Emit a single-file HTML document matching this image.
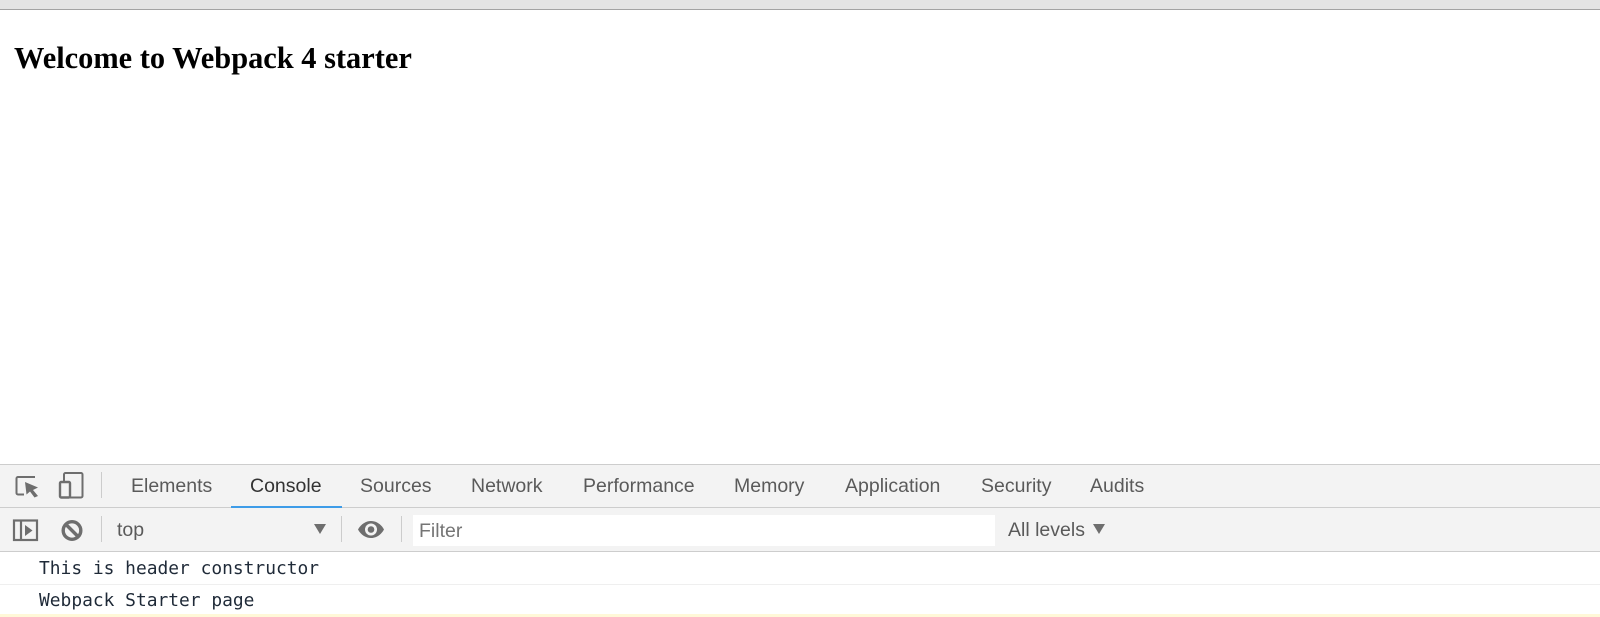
<!DOCTYPE html>
<html><head><meta charset="utf-8"><style>
html,body{margin:0;padding:0;background:#fff}
#p{position:relative;width:1600px;height:617px;overflow:hidden;background:#fff;font-family:"Liberation Sans",sans-serif}
.a{position:absolute}
.t{position:absolute;top:474px;font-size:19.5px;line-height:24px;color:#5a5a5a;white-space:nowrap}
.m{position:absolute;font-family:"DejaVu Sans Mono",monospace;font-size:17.9px;line-height:22px;color:#1f2a38;white-space:pre}
</style></head><body><div id="p">
<div class="a" style="left:0;top:0;width:1600px;height:9px;background:#e4e4e4"></div>
<div class="a" style="left:0;top:9px;width:1600px;height:1px;background:#a3a3a3"></div>
<div class="a" style="left:14px;top:40px;font:bold 30.4px/36px 'Liberation Serif',serif;color:#000;white-space:nowrap">Welcome to Webpack 4 starter</div>

<div class="a" style="left:0;top:464px;width:1600px;height:87px;background:#f3f3f3"></div>
<div class="a" style="left:0;top:464px;width:1600px;height:1px;background:#cdcdcd"></div>
<div class="a" style="left:0;top:507px;width:1600px;height:1px;background:#cdcdcd"></div>
<div class="a" style="left:0;top:551px;width:1600px;height:1px;background:#cdcdcd"></div>
<div class="a" style="left:231px;top:506px;width:111px;height:2px;background:#3e9ce8"></div>

<div class="a" style="left:101px;top:472px;width:1px;height:26px;background:#cccccc"></div>
<div class="a" style="left:101px;top:516px;width:1px;height:26px;background:#cccccc"></div>
<div class="a" style="left:341px;top:516px;width:1px;height:26px;background:#cccccc"></div>
<div class="a" style="left:401px;top:516px;width:1px;height:26px;background:#cccccc"></div>

<svg class="a" style="left:0;top:460px" width="120" height="95" viewBox="0 0 120 95">
<g fill="none" stroke="#6e6e6e" stroke-width="2">
<path d="M35 17H18a1.500 1.500 0 0 0-1.500 1.500V33a1.500 1.500 0 0 0 1.500 1.500H24"/>
<path d="M64 21V14.500a1.500 1.500 0 0 1 1.500-1.500H81a1.500 1.500 0 0 1 1.500 1.500V36a1.500 1.500 0 0 1-1.500 1.500H70"/>
<rect x="60" y="22" width="10" height="15.500" rx="1.200" stroke-width="2.400"/>
<rect x="14" y="60.500" width="23" height="19.500" stroke-width="2.200"/>
<path d="M21 60.500V80" stroke-width="2.200"/>
<circle cx="72" cy="70.500" r="8.800" stroke-width="3.400"/>
<path d="M66 64.500L78 76.500" stroke-width="3.400"/>
</g>
<path d="M25 22L38 27.500 33 30 38 36 34.500 37.500 30 31.500 26.500 34.500Z" fill="#6e6e6e"/>
<path d="M25 65L32.500 70.500 25 76Z" fill="#6e6e6e"/>
</svg>

<div class="t" style="left:131px">Elements</div>
<div class="t" style="left:250px;color:#333">Console</div>
<div class="t" style="left:360px">Sources</div>
<div class="t" style="left:471px">Network</div>
<div class="t" style="left:583px">Performance</div>
<div class="t" style="left:734px">Memory</div>
<div class="t" style="left:845px">Application</div>
<div class="t" style="left:981px">Security</div>
<div class="t" style="left:1090px">Audits</div>

<div class="t" style="left:117px;top:518px">top</div>
<svg class="a" style="left:310px;top:520px" width="110" height="20" viewBox="0 0 110 20">
<path d="M4 4H16L10 14Z" fill="#6e6e6e"/>
<path d="M48 9.500C51 4 56 1 61 1s10 3 13 8.500C71 15 66 18 61 18S51 15 48 9.500Z" fill="#6e6e6e"/>
<circle cx="61" cy="9.500" r="6" fill="#f3f3f3"/><circle cx="61" cy="9.500" r="3.300" fill="#6e6e6e"/>
</svg>
<div class="a" style="left:413px;top:515px;width:582px;height:31px;background:#fff"></div>
<div class="a" style="left:419px;top:519px;font-size:19.5px;line-height:24px;color:#757575">Filter</div>
<div class="t" style="left:1008px;top:518px">All levels</div>
<svg class="a" style="left:1090px;top:523px" width="16" height="14" viewBox="0 0 16 14"><path d="M3 1H15L9 11Z" fill="#6e6e6e"/></svg>

<div class="m" style="left:39px;top:558px">This is header constructor</div>
<div class="a" style="left:0;top:584px;width:1600px;height:1px;background:#efefef"></div>
<div class="m" style="left:39px;top:590px">Webpack Starter page</div>
<div class="a" style="left:0;top:614px;width:1600px;height:3px;background:#fff8d8"></div>
</div></body></html>
